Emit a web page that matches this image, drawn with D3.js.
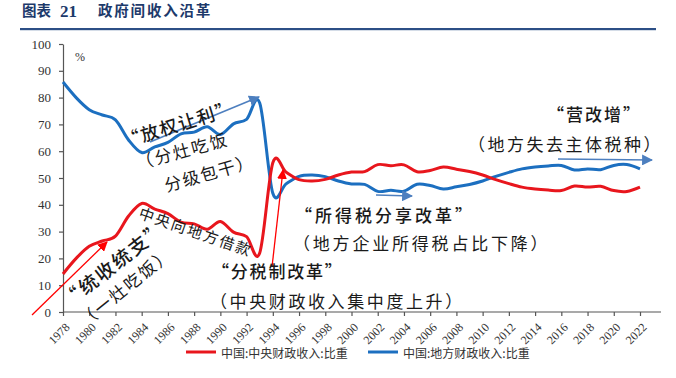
<!DOCTYPE html>
<html>
<head>
<meta charset="utf-8">
<script src="https://cdn.jsdelivr.net/npm/d3@7/dist/d3.min.js"></script>
<style>
  html, body { margin: 0; padding: 0; background: #fff; }
  svg { display: block; }
</style>
</head>
<body>
<div id="chart"></div>
<script>
// ---- data ----
const years = d3.range(1978, 2023);
const centralShare = [14.2, 20.0, 24.5, 26.5, 28.3, 35.8, 40.5, 38.4, 36.7, 33.5, 32.9, 30.9, 33.8, 29.8, 28.1, 22.0,
  55.7, 52.2, 49.4, 48.9, 49.5, 51.1, 52.2, 52.4, 55.0, 54.6, 54.9, 52.3, 52.8, 54.1, 53.3, 52.4, 51.1, 49.4, 47.9,
  46.6, 45.9, 45.5, 45.3, 47.0, 46.6, 46.9, 45.3, 45.0, 46.6];
const localShare = [85.8, 80.0, 75.5, 73.5, 71.7, 64.2, 59.5, 61.6, 63.3, 66.5, 67.1, 69.1, 66.2, 70.2, 71.9, 78.0,
  44.3, 47.8, 50.6, 51.1, 50.5, 48.9, 47.8, 47.6, 45.0, 45.4, 45.1, 47.7, 47.2, 45.9, 46.7, 47.6, 48.9, 50.6, 52.1,
  53.4, 54.1, 54.5, 54.7, 53.0, 53.4, 53.1, 54.7, 55.0, 53.4];
const seriesNames = ["中国:中央财政收入:比重", "中国:地方财政收入:比重"];
const yTicks = [0, 10, 20, 30, 40, 50, 60, 70, 80, 90, 100];
const xTicks = d3.range(1978, 2023, 2);
const titleParts = ["图表", "21", "政府间收入沿革"];

const W = 676, H = 378;
const RED = "#e8161d", BLUE = "#1c6fc0", ARROWBLUE = "#4d7fbf";
const CJK = "'Noto Sans CJK SC', sans-serif";
const SERIF = "'Liberation Serif', 'Times New Roman', serif";

const svg = d3.select("#chart").append("svg").attr("width", W).attr("height", H);

const defs = svg.append("defs");
function marker(id, color, size) {
  defs.append("marker").attr("id", id).attr("viewBox", "0 0 10 10")
    .attr("refX", 9).attr("refY", 5).attr("markerUnits", "userSpaceOnUse")
    .attr("markerWidth", size).attr("markerHeight", size).attr("orient", "auto")
    .append("path").attr("d", "M0,0 L10,5 L0,10 Z").attr("fill", color);
}
marker("ahBlue", ARROWBLUE, 11);
marker("ahRed", "#ff0000", 10);

// ---- title ----
const tcol = "#1d3a6b";
svg.append("text").attr("x", 22).attr("y", 16).text(titleParts[0])
  .attr("font-family", CJK).attr("font-weight", 700).attr("font-size", 14.5).attr("fill", tcol);
svg.append("text").attr("x", 60).attr("y", 17).text(titleParts[1])
  .attr("font-family", SERIF).attr("font-weight", 700).attr("font-size", 17).attr("fill", tcol);
svg.append("text").attr("x", 98).attr("y", 16).text(titleParts[2])
  .attr("font-family", CJK).attr("font-weight", 700).attr("font-size", 14.5).attr("letter-spacing", 1.8).attr("fill", tcol);
svg.append("rect").attr("x", 20).attr("y", 28).attr("width", 636).attr("height", 2.2).attr("fill", "#2c4f86");

// ---- scales ----
const x = d3.scaleLinear().domain([1978, 2022]).range([63, 640]);
const y = d3.scaleLinear().domain([0, 100]).range([312, 44]);

// ---- axes ----
const axCol = "#555";
const yAxis = svg.append("g").attr("transform", "translate(63,0)")
  .call(d3.axisLeft(y).tickValues(yTicks).tickSize(4).tickPadding(8).tickSizeOuter(0));
yAxis.select(".domain").attr("stroke", axCol).attr("stroke-width", 1.2);
yAxis.selectAll(".tick line").attr("stroke", axCol).attr("stroke-width", 1.2);
yAxis.selectAll(".tick text").attr("font-family", SERIF).attr("font-size", 13).attr("fill", "#333");

const xAxis = svg.append("g").attr("transform", "translate(0,312)")
  .call(d3.axisBottom(x).tickValues(xTicks).tickSize(4).tickSizeOuter(0).tickFormat(d3.format("d")));
xAxis.select(".domain").attr("d", "M63,0H661").attr("stroke", axCol).attr("stroke-width", 1.2);
xAxis.selectAll(".tick line").attr("stroke", axCol).attr("stroke-width", 1.2);
xAxis.selectAll(".tick text")
  .attr("font-family", SERIF).attr("font-size", 12).attr("fill", "#333")
  .attr("text-anchor", "end").attr("y", 0).attr("dy", "0.35em")
  .attr("transform", "translate(4,13) rotate(-45)");

svg.append("text").attr("x", 75).attr("y", 61).text("%")
  .attr("font-family", SERIF).attr("font-size", 12).attr("fill", "#333");

// ---- lines ----
const line = d3.line().x((d, i) => x(years[i])).y(d => y(d)).curve(d3.curveCardinal.tension(0));
svg.append("path").datum(localShare).attr("d", line).attr("fill", "none")
  .attr("stroke", BLUE).attr("stroke-width", 3);
svg.append("path").datum(centralShare).attr("d", line).attr("fill", "none")
  .attr("stroke", RED).attr("stroke-width", 3);

// ---- arrows ----
function arrow(x1, y1, x2, y2, color, w, m) {
  svg.append("line").attr("x1", x1).attr("y1", y1).attr("x2", x2).attr("y2", y2)
    .attr("stroke", color).attr("stroke-width", w).attr("marker-end", `url(#${m})`);
}
arrow(150, 142, 259, 97, ARROWBLUE, 1.6, "ahBlue");
arrow(376, 195, 412, 196, ARROWBLUE, 1.6, "ahBlue");
arrow(558, 159, 652, 160, ARROWBLUE, 1.6, "ahBlue");
arrow(32, 315, 107, 242, "#ff0000", 1.3, "ahRed");
arrow(272, 267, 283, 170, "#ff0000", 1.3, "ahRed");

// ---- annotations ----
const ann = svg.append("g").attr("font-family", CJK).attr("fill", "#1a1a1a");
function rotText(t, cx, cy, ang, size, ls, weight) {
  ann.append("text").attr("transform", `translate(${cx},${cy}) rotate(${ang})`)
    .attr("text-anchor", "middle").attr("dominant-baseline", "central")
    .attr("font-size", size).attr("letter-spacing", ls).attr("font-weight", weight || 400).text(t);
}
function hText(t, x0, cy, size, ls, weight) {
  ann.append("text").attr("x", x0).attr("y", cy).attr("dominant-baseline", "central")
    .attr("font-size", size).attr("letter-spacing", ls).attr("font-weight", weight || 400).text(t);
}
rotText("“放权让利”", 178, 123, -17, 18, 1.5, 500);
rotText("（分灶吃饭", 182, 150, -15, 17, 2, 400);
rotText("分级包干）", 209, 172, -16, 17, 1.5, 400);
rotText("中央向地方借款", 196, 231, 19, 15, 2, 400);
rotText("“统收统支”", 113, 263, -38, 19, 2, 500);
rotText("（一灶吃饭）", 125, 286, -39, 17, 2, 400);
hText("“分税制改革”", 212, 270, 17, 1.8, 500);
hText("（中央财政收入集中度上升）", 210, 300, 17, 2.6, 400);
hText("“所得税分享改革”", 295, 214, 17, 3, 500);
hText("（地方企业所得税占比下降）", 293, 242, 17, 2.8, 400);
hText("“营改增”", 547, 113, 17, 2, 500);
hText("（地方失去主体税种）", 468, 143, 17, 2.5, 400);

// ---- legend ----
const leg = svg.append("g");
[[186, RED, seriesNames[0]], [368, BLUE, seriesNames[1]]].forEach(([lx, c, t]) => {
  leg.append("line").attr("x1", lx).attr("x2", lx + 30).attr("y1", 352).attr("y2", 352)
    .attr("stroke", c).attr("stroke-width", 3);
  leg.append("text").attr("x", lx + 35).attr("y", 352).attr("dominant-baseline", "central")
    .attr("font-family", CJK).attr("font-size", 12).attr("fill", "#333").text(t);
});
</script>
</body>
</html>
